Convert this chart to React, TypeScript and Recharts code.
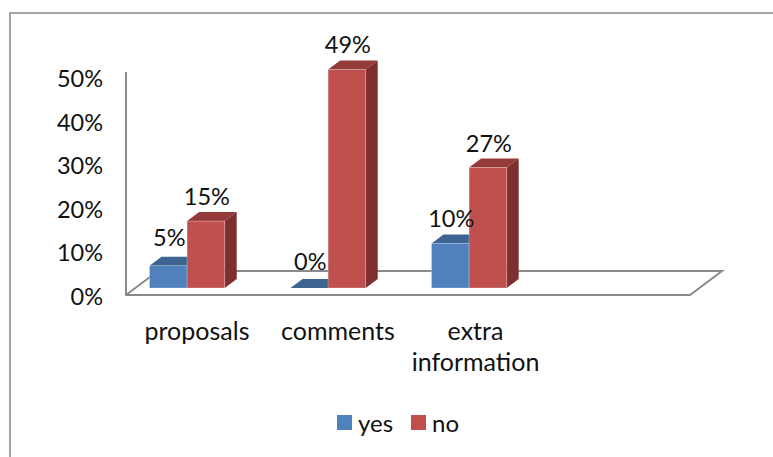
import React from 'react';
import { Bar, BarChart, Customized, LabelList, Legend, XAxis, YAxis } from 'recharts';

const categories = ['proposals', 'comments', 'extra information', ''];
const yesValues = [0.05, 0, 0.1, null];
const noValues = [0.15, 0.49, 0.27, null];
const percentTicks = [0, 0.1, 0.2, 0.3, 0.4, 0.5];

const chartData = categories.map((name, i) => ({
  name,
  yes: yesValues[i],
  no: noValues[i],
}));

const FONT = 'Lato, sans-serif';
const NUMBER_SIZE = 23.5;
const WORD_SIZE = 25;
const TEXT_COLOR = '#111';
const AXIS_COLOR = '#8a8a8a';

// extrusion of the boxes and of the floor
const DEPTH_X = 12;
const DEPTH_Y = 9;

const PLOT_BOTTOM = 288;
// the printed scale runs a little tighter than the columns
const TICK_SPREAD = 0.975;

// short blue columns carry their labels a little higher
const YES_LABEL_LIFT = [4, 2, 0];

const yesColors = { front: '#4f81bd', top: '#3e6591', side: '#335478' };
const noColors = { front: '#c0504d', top: '#943b39', side: '#7c2f2e' };

const percent = (v: number) => `${Math.round(v * 100)}%`;

function Box({ x, y, width, height, colors }: any) {
  const right = x + width;
  const bottom = y + height;
  return (
    <g>
      <polygon
        points={`${right},${y} ${right + DEPTH_X},${y - DEPTH_Y} ${right + DEPTH_X},${bottom - DEPTH_Y} ${right},${bottom}`}
        fill={colors.side}
      />
      <polygon
        points={`${x},${y} ${x + DEPTH_X},${y - DEPTH_Y} ${right + DEPTH_X},${y - DEPTH_Y} ${right},${y}`}
        fill={colors.top}
      />
      {height > 0 && (
        <rect
          x={x}
          y={y}
          width={width}
          height={height}
          fill={colors.front}
          stroke="#fff"
          strokeOpacity={0.25}
        />
      )}
    </g>
  );
}

// back wall edge and floor outline
function Floor() {
  return (
    <g fill="none" stroke={AXIS_COLOR} strokeWidth={2}>
      <path d="M126 72 L126 295 L690 295 L722 271 L158 271 L126 295" />
    </g>
  );
}

function ValueLabel({ x, y, width, value, lifts, index }: any) {
  if (value === null || value === undefined) return null;
  const lift = lifts ? lifts[index] ?? 0 : 0;
  return (
    <text
      x={x + width / 2 + 1}
      y={y - 16 - lift}
      textAnchor="middle"
      fontFamily={FONT}
      fontSize={NUMBER_SIZE}
      fill={TEXT_COLOR}
    >
      {percent(value)}
    </text>
  );
}

function CategoryTick({ x, y, payload }: any) {
  const words = String(payload.value).split(' ');
  // two-line labels sit slightly left of the single-line ones
  const cx = x + (words.length > 1 ? 6.5 : 10);
  return (
    <text
      x={cx}
      y={y + 52}
      textAnchor="middle"
      fontFamily={FONT}
      fontSize={WORD_SIZE}
      fill={TEXT_COLOR}
    >
      {words.map((word: string, i: number) => (
        <tspan key={word} x={cx} dy={i === 0 ? 0 : 31}>
          {word}
        </tspan>
      ))}
    </text>
  );
}

function PercentTick({ x, y, payload }: any) {
  const labelY = PLOT_BOTTOM - (PLOT_BOTTOM - y) * TICK_SPREAD;
  return (
    <text
      x={x}
      y={labelY + 16.5}
      textAnchor="end"
      fontFamily={FONT}
      fontSize={NUMBER_SIZE}
      fill={TEXT_COLOR}
    >
      {percent(payload.value)}
    </text>
  );
}

function LegendRow() {
  const items = [
    { label: 'yes', color: yesColors.front },
    { label: 'no', color: noColors.front },
  ];
  return (
    <div
      style={{
        display: 'flex',
        alignItems: 'center',
        height: 30,
        paddingLeft: 337,
        fontFamily: FONT,
        fontSize: 24,
        color: TEXT_COLOR,
      }}
    >
      {items.map((item) => (
        <span key={item.label} style={{ display: 'flex', alignItems: 'center', marginRight: 18 }}>
          <span
            style={{
              display: 'inline-block',
              width: 15,
              height: 15,
              marginRight: 6,
              background: item.color,
            }}
          />
          {item.label}
        </span>
      ))}
    </div>
  );
}

export default function App() {
  return (
    <div style={{ position: 'absolute', left: 0, top: 0, width: 773, height: 457, background: '#fff', overflow: 'hidden' }}>
      <div
        style={{
          position: 'absolute',
          left: 9,
          top: 12,
          right: 0,
          bottom: 0,
          borderLeft: '2px solid #a3a3a3',
          borderTop: '2px solid #a3a3a3',
        }}
      />
      <div style={{ position: 'absolute', left: 0, top: 0 }}>
        <BarChart
          width={773}
          height={457}
          data={chartData}
          barGap={0}
          barSize={37.6}
          margin={{ top: 65, right: 92.5, bottom: 20, left: 0 }}
        >
          <Customized component={Floor} />
          <XAxis
            dataKey="name"
            axisLine={false}
            tickLine={false}
            tickSize={0}
            tickMargin={0}
            height={119}
            interval={0}
            tick={CategoryTick}
          />
          <YAxis
            domain={[0, 0.5]}
            ticks={percentTicks}
            axisLine={false}
            tickLine={false}
            tickSize={0}
            tickMargin={13.5}
            width={116.5}
            tick={PercentTick}
          />
          <Legend verticalAlign="bottom" height={30} content={LegendRow} wrapperStyle={{ left: 0, width: 773 }} />
          <Bar
            dataKey="yes"
            isAnimationActive={false}
            fill={yesColors.front}
            shape={(props: any) => <Box {...props} colors={yesColors} />}
          >
            <LabelList dataKey="yes" content={(props: any) => <ValueLabel {...props} lifts={YES_LABEL_LIFT} />} />
          </Bar>
          <Bar
            dataKey="no"
            isAnimationActive={false}
            fill={noColors.front}
            shape={(props: any) => <Box {...props} colors={noColors} />}
          >
            <LabelList dataKey="no" content={ValueLabel} />
          </Bar>
        </BarChart>
      </div>
    </div>
  );
}
